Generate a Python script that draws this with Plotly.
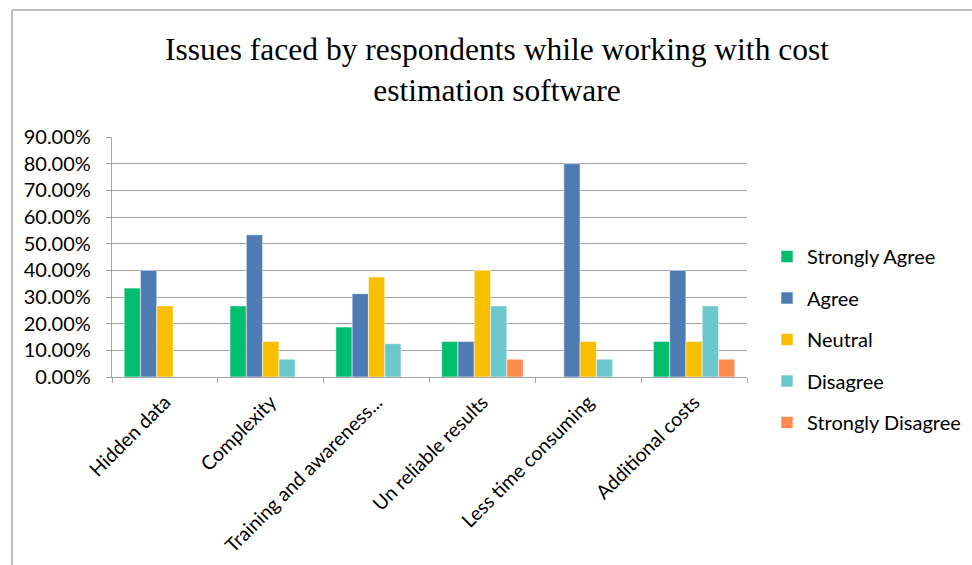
import plotly.graph_objects as go

# Survey categories and response shares (fractions of respondents)
categories = ["Hidden data", "Complexity", "Training and awareness...",
              "Un reliable results", "Less time consuming", "Additional costs"]
series_names = ["Strongly Agree", "Agree", "Neutral", "Disagree", "Strongly Disagree"]
strongly_agree = [0.3333, 0.2667, 0.1875, 0.1333, 0.0, 0.1333]
agree = [0.40, 0.5333, 0.3125, 0.1333, 0.80, 0.40]
neutral = [0.2667, 0.1333, 0.375, 0.40, 0.1333, 0.1333]
disagree = [0.0, 0.0667, 0.125, 0.2667, 0.0667, 0.2667]
strongly_disagree = [0.0, 0.0, 0.0, 0.0667, 0.0, 0.0667]
y_ticks = [0.0, 0.1, 0.2, 0.3, 0.4, 0.5, 0.6, 0.7, 0.8, 0.9]

series_values = [strongly_agree, agree, neutral, disagree, strongly_disagree]
colors = ["#00BE6E", "#4F7BB4", "#FABE00", "#6DC8CD", "#FF8B4F"]

W, H = 972, 565
ML, MR, MT, MB = 112, 225, 137, 188
PW, PH = W - ML - MR, H - MT - MB

def px_x(x):
    return (x - ML) / PW

def px_y(y):
    return (H - MB - y) / PH

font_main = "Lato"
fig = go.Figure()
for name, vals, col in zip(series_names, series_values, colors):
    fig.add_trace(go.Bar(
        x=categories, y=vals, name=name, legendgroup=name,
        marker=dict(color=col, line=dict(color="rgba(255,255,255,0.55)", width=1)),
    ))

fig.update_layout(
    width=W, height=H,
    margin=dict(l=ML, r=MR, t=MT, b=MB, autoexpand=False),
    paper_bgcolor="white", plot_bgcolor="white",
    barmode="group", bargap=0.23, bargroupgap=0,
    title=dict(
        text="Issues faced by respondents while working with cost<br>estimation software",
        font=dict(family="Liberation Serif", size=31.5, color="black"),
        x=497 / W, xanchor="center", xref="container",
        y=1 - 60 / H, yanchor="top", yref="container",
    ),
    font=dict(family=font_main, size=19, color="black"),
    legend=dict(
        x=767 / W, xanchor="left", xref="container",
        y=1 - 237 / H, yanchor="top", yref="container",
        font=dict(family=font_main, size=20, color="black"),
        tracegroupgap=12.5, itemclick=False,
    ),
    showlegend=True,
)

fig.update_yaxes(
    range=[0, 0.9], tickvals=y_ticks, tickformat=".2%",
    tickfont=dict(size=20), automargin=False,
    showgrid=True, gridcolor="#A3A3A3", gridwidth=1.3,
    showline=True, linecolor="#A3A3A3", linewidth=1.3,
    ticks="outside", ticklen=5, tickcolor="#A3A3A3",
    ticklabelstandoff=11,
    zeroline=False, fixedrange=True,
)
fig.update_xaxes(
    tickangle=-45, tickfont=dict(size=19.5), automargin=False,
    showline=True, linecolor="#A3A3A3", linewidth=1.3,
    ticks="outside", ticklen=5, tickcolor="#A3A3A3", tickson="boundaries",
    ticklabelstandoff=5,
    showgrid=False, fixedrange=True,
)

# Chart frame (left and top edges)
frame = dict(type="line", xref="paper", yref="paper",
             line=dict(color="#A8A8A8", width=1.5))
fig.add_shape(**frame, x0=px_x(12), x1=px_x(12), y0=px_y(10), y1=px_y(580))
fig.add_shape(**frame, x0=px_x(12), x1=px_x(990), y0=px_y(10), y1=px_y(10))

fig.write_html("out.html")
